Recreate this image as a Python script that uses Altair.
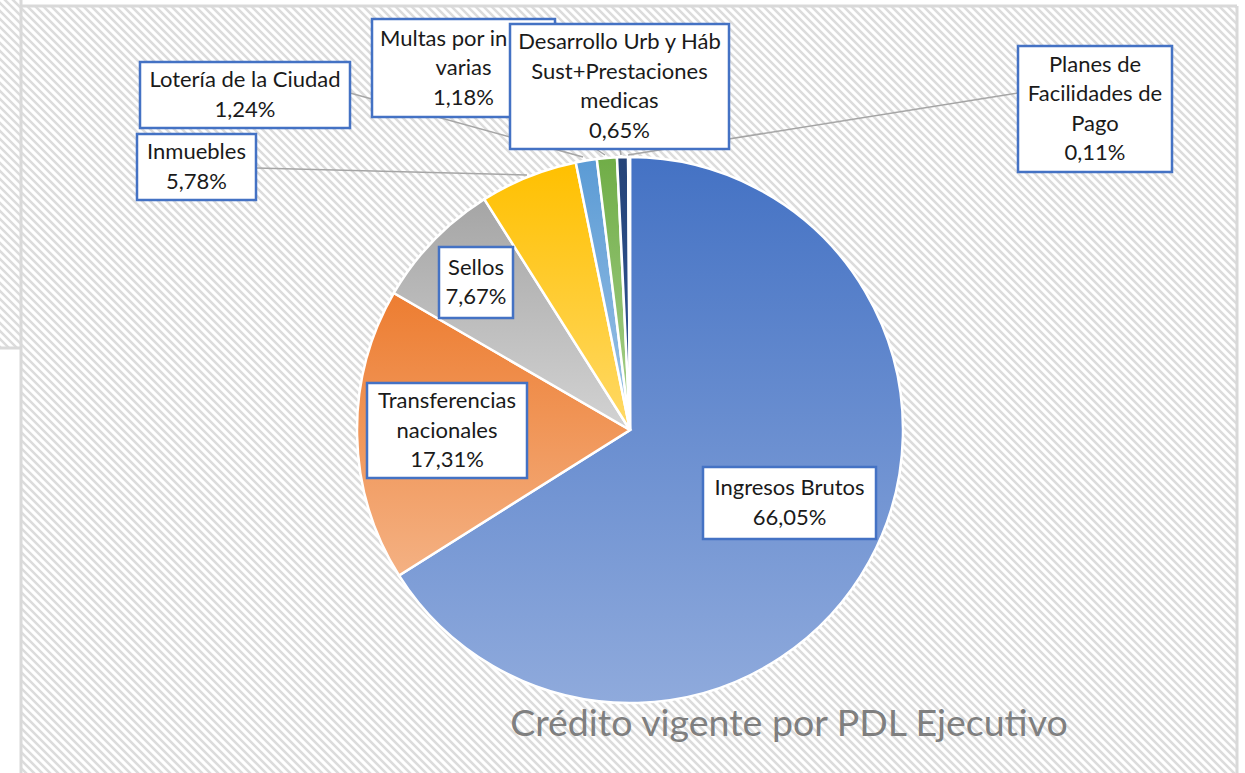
import math
import altair as alt
import pandas as pd

# ---------------- data ----------------
categories = [
    "Ingresos Brutos", "Transferencias nacionales", "Sellos", "Inmuebles",
    "Lotería de la Ciudad", "Multas por infracciones varias",
    "Desarrollo Urb y Háb Sust+Prestaciones medicas", "Planes de Facilidades de Pago",
]
values = [66.05, 17.31, 7.67, 5.78, 1.24, 1.18, 0.65, 0.11]
label_lines = [
    ["Ingresos Brutos"], ["Transferencias", "nacionales"], ["Sellos"], ["Inmuebles"],
    ["Lotería de la Ciudad"], ["Multas por infracciones", "varias"],
    ["Desarrollo Urb y Háb", "Sust+Prestaciones", "medicas"],
    ["Planes de", "Facilidades de", "Pago"],
]
title_text = "Crédito vigente por PDL Ejecutivo"

# ---------------- styles ----------------
color_top = ["#4472C4", "#ED7D31", "#A5A5A5", "#FFC000", "#5B9BD5", "#70AD47", "#264478", "#9E480E"]
color_bottom = ["#8FAADC", "#F4B183", "#D3D3D3", "#FFD966", "#9DC3E6", "#A9D18E", "#2F5597", "#C55A11"]
FONT = "Lato"
LABEL_SIZE = 22
W, H = 1245, 773

# ---------------- layout (pixels) ----------------
pie_cx, pie_cy, pie_r = 630, 430, 273
boxes = [(703, 467, 876, 539), (367, 383, 527, 478), (439, 247, 513, 318), (137, 134, 256, 200),
         (140, 62, 350, 128), (372, 19, 555, 117), (510, 24, 729, 149), (1018, 46, 1172, 172)]
leaders = [None, None, None, (256, 168, 527, 175), (350, 93, 583, 157),
           (548, 117, 605, 155), (620, 149, 621, 155), (1018, 93, 628, 155)]
line_gap = 29.5
multas_first_line_left = 380
multas_first_line_limit = 131
masks = [(0, 349, 20, H + 5), (20, -5, W + 5, 5), (1238, -5, W + 5, H + 5)]
frame = [(21, 0, 21, H + 5), (21, 6, 1237, 6), (1237, 6, 1237, H + 5), (0, 348, 21, 348)]

# ---------------- build ----------------
total = sum(values)
starts, ends, acc = [], [], 0.0
for v in values:
    starts.append(acc)
    acc += v
    ends.append(acc)
pie_df = pd.DataFrame({"category": categories, "value": values, "start": starts, "end": ends})

px = lambda f: alt.X(f, scale=None, axis=None)
py = lambda f: alt.Y(f, scale=None, axis=None)

hatch = alt.Chart(alt.sequence(-800, 1260, 8, as_="c")).transform_calculate(
    hx1="datum.c", hy1="-5", hx2="datum.c + 800", hy2="795"
).mark_rule(color="#DCDCDC", strokeWidth=2.6, clip=True).encode(
    x=px("hx1:Q"), y=py("hy1:Q"), x2="hx2:Q", y2="hy2:Q")

mask_df = pd.DataFrame(masks, columns=["x0", "y0", "x1", "y1"])
mask_layer = alt.Chart(mask_df).mark_rect(color="white", clip=True).encode(
    x=px("x0:Q"), y=py("y0:Q"), x2="x1:Q", y2="y1:Q")

frame_df = pd.DataFrame(frame, columns=["x0", "y0", "x1", "y1"])
frame_layer = alt.Chart(frame_df).mark_rule(color="#D9D9D9", strokeWidth=3, clip=True).encode(
    x=px("x0:Q"), y=py("y0:Q"), x2="x1:Q", y2="y1:Q")

theta_scale = alt.Scale(domain=[0, total], range=[0, 2 * math.pi])
pie_layers = []
for i, cat in enumerate(categories):
    grad = alt.LinearGradient(
        gradient="linear", x1=0, y1=0, x2=0, y2=1,
        stops=[alt.GradientStop(color=color_top[i], offset=0),
               alt.GradientStop(color=color_bottom[i], offset=1)])
    pie_layers.append(
        alt.Chart(pie_df).transform_filter(alt.datum.category == cat)
        .mark_arc(fill=grad, stroke="white", strokeWidth=2.5, outerRadius=pie_r)
        .encode(theta=alt.Theta("start:Q", scale=theta_scale), theta2="end:Q",
                x=alt.value(pie_cx), y=alt.value(pie_cy))
    )

lead_rows = [dict(x0=l[0], y0=l[1], x1=l[2], y1=l[3]) for l in leaders if l]
lead_layer = alt.Chart(pd.DataFrame(lead_rows)).mark_rule(color="#A6A6A6", strokeWidth=1.5).encode(
    x=px("x0:Q"), y=py("y0:Q"), x2="x1:Q", y2="y1:Q")

label_layers = []
for i, cat in enumerate(categories):
    x0, y0, x1, y1 = boxes[i]
    box = alt.Chart(pd.DataFrame([dict(x0=x0, y0=y0, x1=x1, y1=y1)])).mark_rect(
        fill="white", stroke="#4472C4", strokeWidth=2.5).encode(
        x=px("x0:Q"), y=py("y0:Q"), x2="x1:Q", y2="y1:Q")
    lines = label_lines[i] + [f"{values[i]:.2f}".replace(".", ",") + "%"]
    n = len(lines)
    cy = (y0 + y1) / 2
    cx = (x0 + x1) / 2
    rows_c, rows_l = [], []
    for j, t in enumerate(lines):
        yy = cy + (j - (n - 1) / 2) * line_gap
        if i == 5 and j == 0:
            rows_l.append(dict(t=t, x=multas_first_line_left, y=yy))
        else:
            rows_c.append(dict(t=t, x=cx, y=yy))
    label_layers.append(box)
    label_layers.append(alt.Chart(pd.DataFrame(rows_c)).mark_text(
        font=FONT, fontSize=LABEL_SIZE, color="#1A1A1A", align="center", baseline="middle").encode(
        x=px("x:Q"), y=py("y:Q"), text="t:N"))
    if rows_l:
        # first line of this label is cut by the overlapping box to its right (as in the original)
        label_layers.append(alt.Chart(pd.DataFrame(rows_l)).mark_text(
            font=FONT, fontSize=LABEL_SIZE, color="#1A1A1A", align="left", baseline="middle",
            limit=multas_first_line_limit, ellipsis="\u200b").encode(
            x=px("x:Q"), y=py("y:Q"), text="t:N"))

title_layer = alt.Chart(pd.DataFrame({"t": [title_text]})).mark_text(
    font=FONT, fontSize=37.5, color="#7F7F7F", align="center", baseline="alphabetic").encode(
    x=alt.value(789), y=alt.value(736), text="t:N")

chart = alt.layer(hatch, mask_layer, frame_layer, *pie_layers, lead_layer, *label_layers, title_layer).properties(
    width=W, height=H, padding=0, autosize=alt.AutoSizeParams(type="none"), background="white"
).configure_view(stroke=None)

chart.save("out.html", embed_options={"renderer": "svg", "actions": False})
